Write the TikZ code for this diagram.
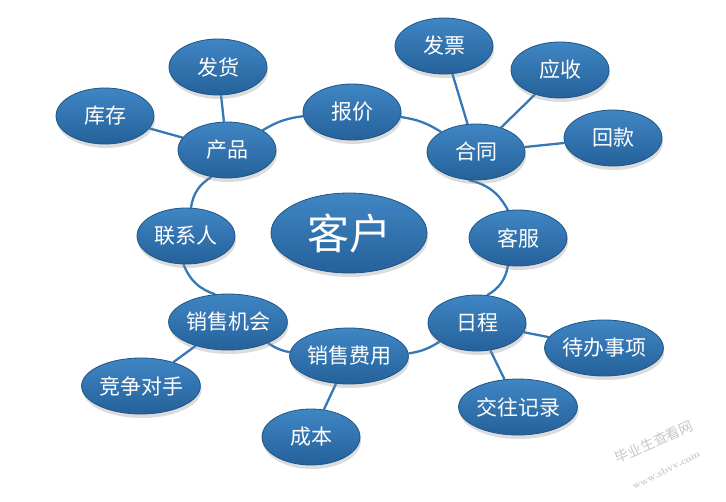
\documentclass[tikz,border=0pt]{standalone}
\usepackage{fontspec}
\newfontfamily\cjk{Noto Sans CJK SC}
\usetikzlibrary{shapes.geometric,shadows}
\definecolor{nodetop}{HTML}{3F86C4}
\definecolor{nodebot}{HTML}{25619A}
\definecolor{rim}{HTML}{1E5586}
\definecolor{linkblue}{HTML}{3478B5}
\pgfdeclarelayer{bg}\pgfsetlayers{bg,main}
\begin{document}
\begin{tikzpicture}[x=1pt,y=-1pt,
 bub/.style={ellipse, inner sep=0pt, minimum width=98pt, minimum height=56pt,
   top color=nodetop, bottom color=nodebot, draw=rim, line width=0.8pt,
   text=white, font=\cjk\fontsize{21}{21}\selectfont,
   drop shadow={shadow xshift=1pt, shadow yshift=-4pt, opacity=0.3, fill=black!45}},
 wide/.style={bub, minimum width=106pt},
 hub/.style={bub, minimum width=156pt, minimum height=80pt, font=\cjk\fontsize{42}{42}\selectfont},
 link/.style={draw=linkblue, line width=2.3pt},
 wm/.style={text=black!22, inner sep=0pt}]
\useasboundingbox (0,0) rectangle (726,501);
\node[hub] (kh) at (349,233) {客户};
\node[bub] (fh) at (218,67) {发货};
\node[bub] (kc) at (105,116) {库存};
\node[bub] (cp) at (227,150) {产品};
\node[bub] (bj) at (352,112) {报价};
\node[bub] (fp) at (444,46) {发票};
\node[bub] (ys) at (560,70) {应收};
\node[bub] (ht) at (476,152) {合同};
\node[bub] (hk) at (613,138) {回款};
\node[bub] (lx) at (186,236) {联系人};
\node[bub] (kf) at (518,238) {客服};
\node[bub] (rc) at (477,323) {日程};
\node[wide] (jh) at (228,322) {销售机会};
\node[wide] (db) at (604,348) {待办事项};
\node[wide] (fy) at (349,356) {销售费用};
\node[wide] (jz) at (141,386) {竞争对手};
\node[wide] (jw) at (518,407) {交往记录};
\node[bub] (cb) at (311,437) {成本};
\node[wm, rotate=24, font=\cjk\fontsize{14}{14}\selectfont] (w1) at (654,442) {毕业生查看网};
\node[wm, rotate=27, font=\fontsize{10}{10}\selectfont\bfseries] (w2) at (666,470) {www.sbvv.com};
\begin{pgfonlayer}{bg}
\draw[link] (kc) -- (cp);
\draw[link] (fh) -- (cp);
\draw[link] (cp) to[bend left=12] (bj);
\draw[link] (bj) to[bend left=12] (ht);
\draw[link] (fp) -- (ht);
\draw[link] (ys) -- (ht);
\draw[link] (hk) -- (ht);
\draw[link] (ht.-105) to[bend left=25] (kf.110);
\draw[link] (kf.-110) to[bend left=25] (rc.70);
\draw[link] (rc) -- (db);
\draw[link] (rc) -- (jw);
\draw[link] (rc) to[bend left=12] (fy);
\draw[link] (fy) -- (cb);
\draw[link] (fy) to[bend left=12] (jh);
\draw[link] (jh) -- (jz);
\draw[link] (jh.115) to[bend left=25] (lx.-95);
\draw[link] (lx.80) to[bend left=25] (cp.-120);
\end{pgfonlayer}
\end{tikzpicture}
\end{document}
